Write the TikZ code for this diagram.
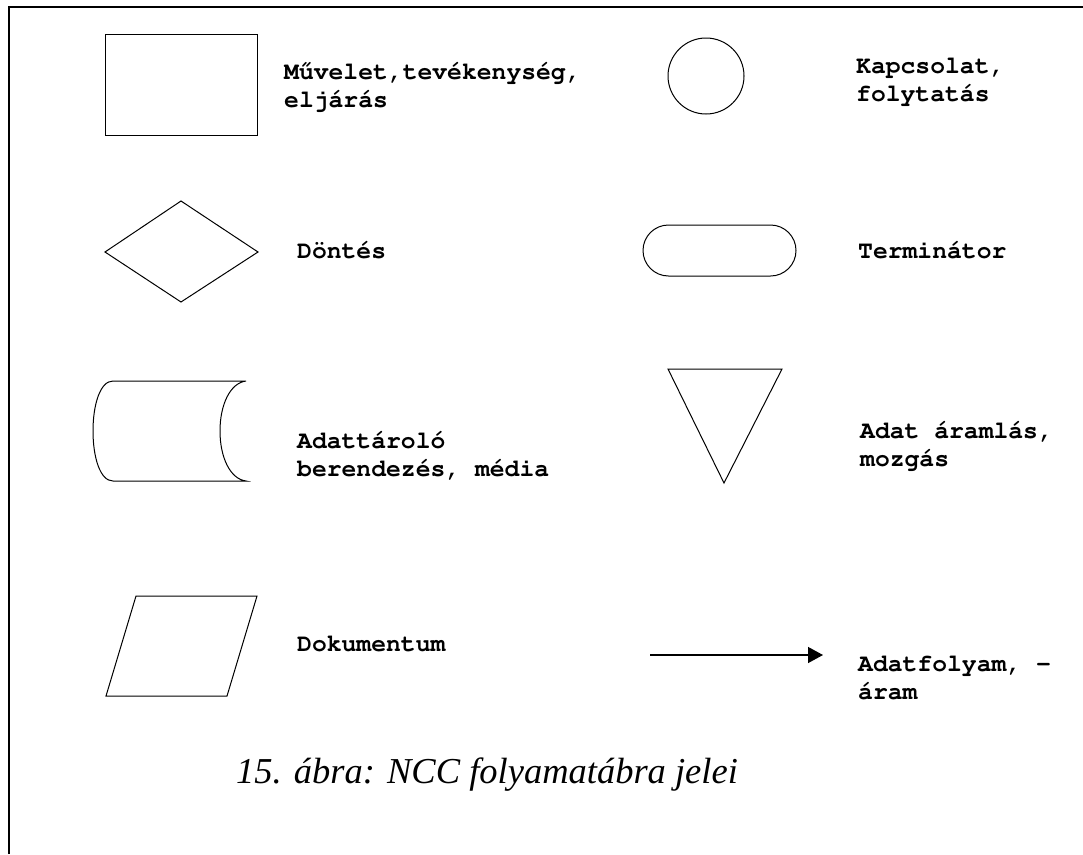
\documentclass[tikz,border=0pt]{standalone}
\usepackage[T1,TU]{fontenc}
\usepackage{fontspec}
\setmainfont{Liberation Serif}
\usetikzlibrary{arrows.meta}

% bold Courier for the symbol names
\newcommand\courbold{\fontencoding{T1}\fontfamily{pcr}\fontseries{b}\fontshape{n}%
  \fontsize{24.7}{28}\selectfont}

\tikzset{
  symbol/.style={draw=black, line width=1pt, line join=miter},
  label/.style={anchor=base west, align=left, inner sep=0pt, font=\courbold},
  frameline/.style={line width=2.6pt},
  flowarrow/.style={line width=1.4pt, -{Triangle[length=15pt,width=16pt]}},
}

\begin{document}
\begin{tikzpicture}[x=1pt,y=-1pt]
  \useasboundingbox (0,0) rectangle (1083,854);
  % page frame: top and left rule
  \draw[frameline] (9,854) -- (9,7) -- (1083,7);

  % process
  \draw[symbol] (105,34) rectangle (257,135);
  \node[label] (lproc) at (284,107) {M\H{u}velet,tev\'ekenys\'eg,\\elj\'ar\'as};

  % connector
  \draw[symbol] (706,76) circle (38);
  \node[label] (lconn) at (856,101) {Kapcsolat,\\folytat\'as};

  % decision
  \draw[symbol] (105,252) -- (181,201) -- (258,252) -- (181,302) -- cycle;
  \node[label] (ldec) at (297,258) {D\"ont\'es};

  % terminator
  \draw[symbol, rounded corners=25.5pt] (643,225) rectangle (796,276);
  \node[label] (lterm) at (858,258) {Termin\'ator};

  % data storage
  \draw[symbol] (246,381) -- (113,381)
    .. controls (100,381) and (93,405) .. (93,431)
    .. controls (93,457) and (100,481) .. (113,481)
    -- (246,481)
    .. controls (230,479) and (220,457) .. (220,431)
    .. controls (220,405) and (230,383) .. (246,381);
  \node[label] (lstore) at (297,476) {Adatt\'arol\'o\\berendez\'es, m\'edia};

  % data flow
  \draw[symbol] (668,369) -- (782,369) -- (724,483) -- cycle;
  \node[label] (lflow) at (860,466) {Adat \'araml\'as,\\mozg\'as};

  % document
  \draw[symbol] (136,596) -- (257,596) -- (227,696) -- (106,696) -- cycle;
  \node[label] (ldoc) at (297,651) {Dokumentum};

  % data stream arrow
  \coordinate (astart) at (650,655);
  \coordinate (aend) at (823,655);
  \draw[flowarrow] (astart) -- (aend);
  \node[label] (lstream) at (858,699) {Adatfolyam, -\\\'aram};

  % caption
  \node[anchor=base, inner sep=0pt, font=\fontsize{36.5}{40}\selectfont\itshape]
    (caption) at (487,783) {15. ábra: NCC folyamatábra jelei};
\end{tikzpicture}
\end{document}
